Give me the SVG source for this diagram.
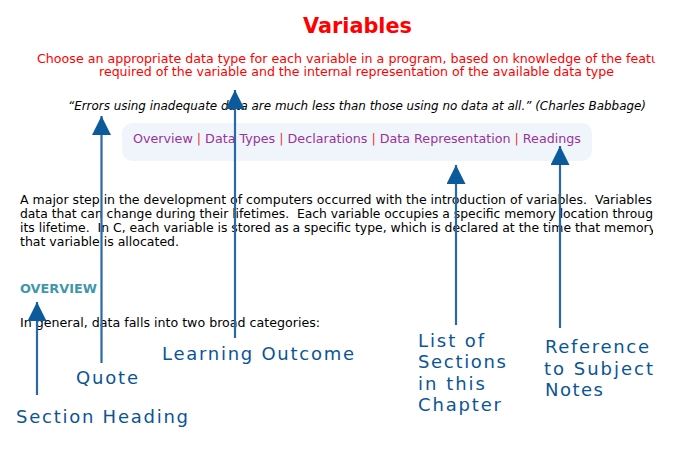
<svg xmlns="http://www.w3.org/2000/svg" width="675" height="466" viewBox="0 0 675 466">
<style>
.red{fill:#ff0000;font-family:"DejaVu Sans","Verdana",sans-serif;font-size:12px}
.quote{fill:#000;font-family:"DejaVu Sans",sans-serif;font-size:12px;font-style:italic}
.nav{fill:#993399;font-family:"DejaVu Sans",sans-serif;font-size:12px}
.sep{fill:#ee3333}
.para{fill:#000;font-family:"DejaVu Sans Condensed","DejaVu Sans",sans-serif;font-size:12.5px;white-space:pre}
.lbl{fill:#0b5596;font-family:"DejaVu Sans",sans-serif;font-size:18px}
.conn line{stroke:#2a68a8;stroke-width:2.2;marker-end:url(#ah)}
</style>
<defs>
<marker id="ah" markerUnits="userSpaceOnUse" markerWidth="20" markerHeight="20" refX="19" refY="9.5" orient="auto" viewBox="0 0 20 20">
<path d="M0,0 L19,9.5 L0,19 z" fill="#0b5a9b"/>
</marker>
<clipPath id="clip"><rect x="0" y="0" width="655" height="466"/></clipPath>
<clipPath id="clip2"><rect x="0" y="0" width="653" height="466"/></clipPath>
</defs>
<rect width="675" height="466" fill="#ffffff"/>
<g id="page">
<text x="303" y="33" textLength="109" lengthAdjust="spacingAndGlyphs" style="fill:#ff0000;font-family:'DejaVu Sans',sans-serif;font-size:22px;font-weight:bold">Variables</text>
<g clip-path="url(#clip)">
<text class="red" x="37" y="63" textLength="622" lengthAdjust="spacingAndGlyphs">Choose an appropriate data type for each variable in a program, based on knowledge of the featu</text>
</g>
<text class="red" x="99" y="76" textLength="515" lengthAdjust="spacingAndGlyphs">required of the variable and the internal representation of the available data type</text>
<text class="quote" x="68" y="110" textLength="578" lengthAdjust="spacingAndGlyphs">“Errors using inadequate data are much less than those using no data at all.” (Charles Babbage)</text>
<rect x="122" y="123" width="470" height="38" rx="10" fill="#eff5fb"/>
<text class="nav" x="133" y="143" textLength="448" lengthAdjust="spacingAndGlyphs">Overview <tspan class="sep">|</tspan> Data Types <tspan class="sep">|</tspan> Declarations <tspan class="sep">|</tspan> Data Representation <tspan class="sep">|</tspan> Readings</text>
<g clip-path="url(#clip2)">
<text class="para" x="20" y="204" textLength="632" lengthAdjust="spacingAndGlyphs">A major step in the development of computers occurred with the introduction of variables.  Variables</text>
<text class="para" x="20" y="218" textLength="633" lengthAdjust="spacingAndGlyphs">data that can change during their lifetimes.  Each variable occupies a specific memory location throug</text>
<text class="para" x="20" y="232" textLength="636" lengthAdjust="spacingAndGlyphs">its lifetime.  In C, each variable is stored as a specific type, which is declared at the time that memory</text>
<text class="para" x="20" y="246" textLength="159" lengthAdjust="spacingAndGlyphs">that variable is allocated.</text>
</g>
<text x="20" y="293" textLength="77" lengthAdjust="spacingAndGlyphs" style="fill:#3f97aa;font-family:'DejaVu Sans',sans-serif;font-size:12px;font-weight:bold">OVERVIEW</text>
<text class="para" x="20" y="327" textLength="300" lengthAdjust="spacingAndGlyphs">In general, data falls into two broad categories:</text>
</g>
<g id="connectors" class="conn">
<line x1="37" y1="395" x2="37" y2="302"/>
<line x1="101.5" y1="363" x2="101.5" y2="116"/>
<line x1="235" y1="338" x2="235" y2="90"/>
<line x1="456" y1="325" x2="456" y2="165"/>
<line x1="560" y1="328" x2="560" y2="146"/>
</g>
<g id="label-section-heading"><text class="lbl" x="16" y="423" textLength="172">Section Heading</text></g>
<g id="label-quote"><text class="lbl" x="76" y="384" textLength="62">Quote</text></g>
<g id="label-learning-outcome"><text class="lbl" x="162" y="360" textLength="192">Learning Outcome</text></g>
<g id="label-list-of-sections">
<text class="lbl" x="418" y="347" textLength="66">List of</text>
<text class="lbl" x="418" y="368" textLength="88">Sections</text>
<text class="lbl" x="418" y="390" textLength="67">in this</text>
<text class="lbl" x="418" y="411" textLength="83">Chapter</text>
</g>
<g id="label-reference">
<text class="lbl" x="545" y="353" textLength="104">Reference</text>
<text class="lbl" x="544" y="375" textLength="109">to Subject</text>
<text class="lbl" x="545" y="396" textLength="58">Notes</text>
</g>
</svg>
